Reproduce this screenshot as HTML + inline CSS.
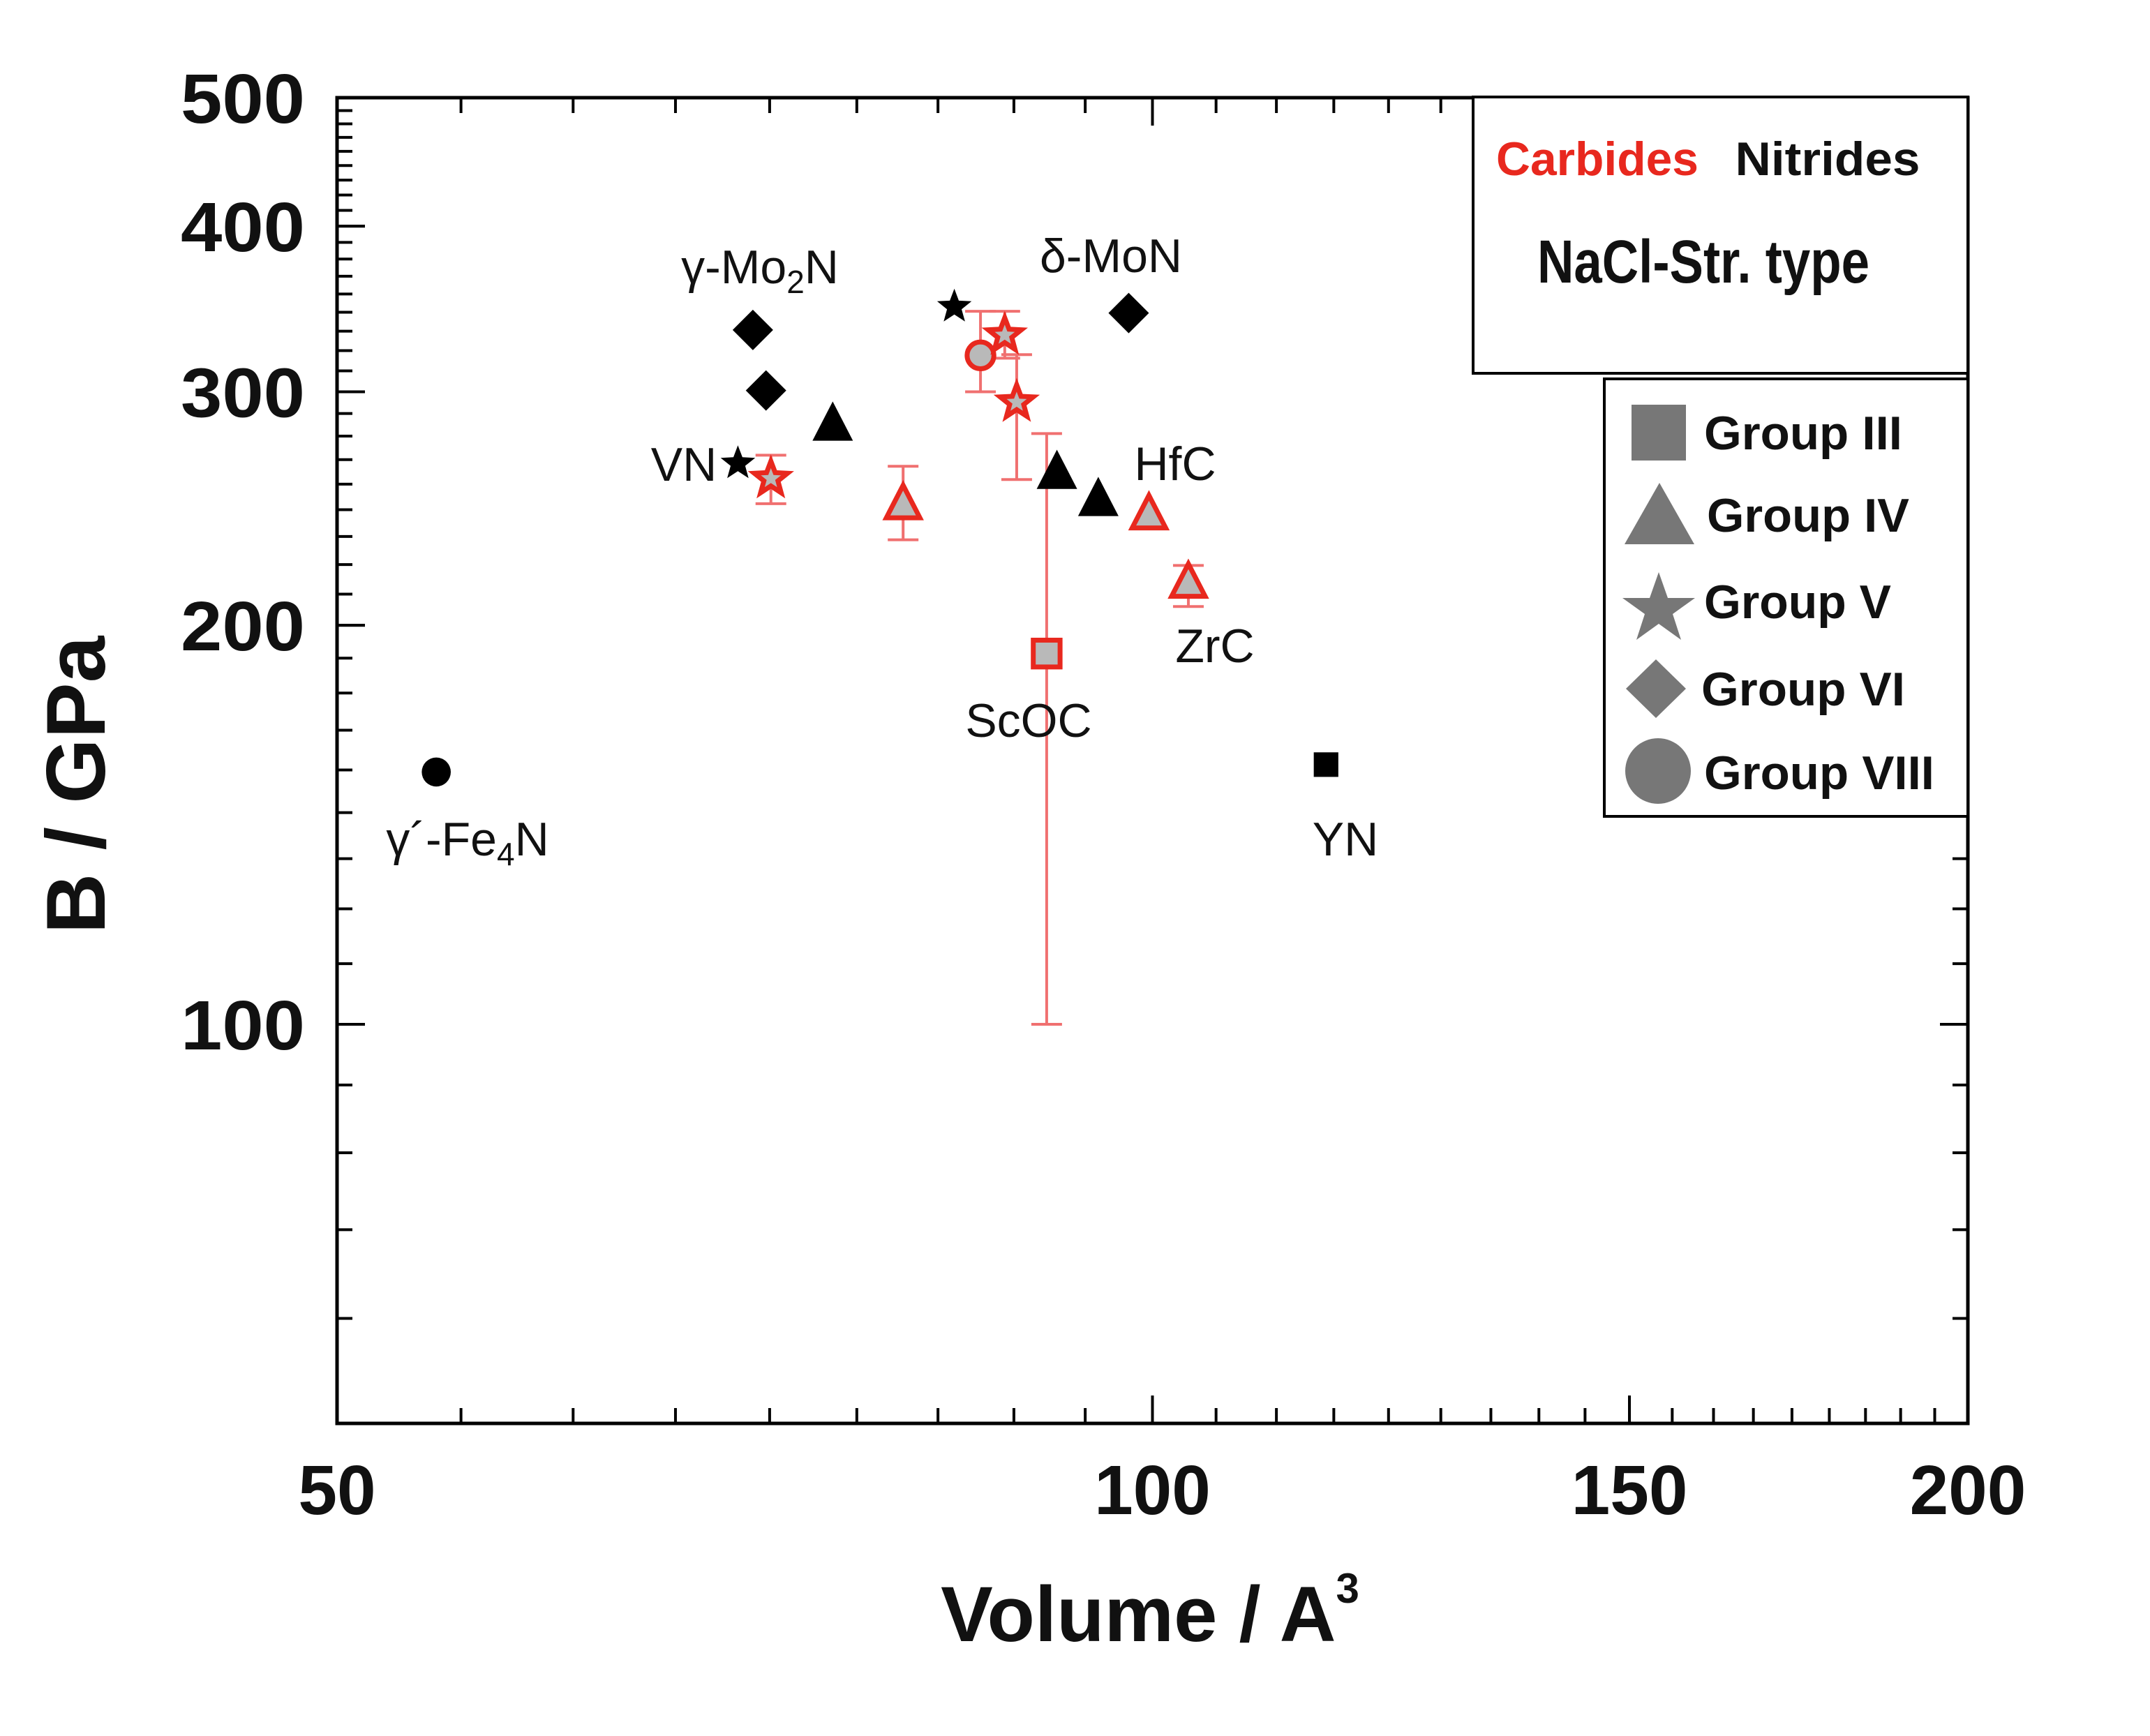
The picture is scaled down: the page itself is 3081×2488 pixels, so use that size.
<!DOCTYPE html>
<html><head><meta charset="utf-8"><style>
html,body{margin:0;padding:0;background:#fff;}
svg{display:block;font-family:"Liberation Sans",sans-serif;}
</style></head><body>
<svg id="chart" width="3081" height="2488" viewBox="0 0 3081 2488" xmlns="http://www.w3.org/2000/svg">
<rect width="3081" height="2488" fill="#fff"/>
<g id="ticks"></g>
<rect x="483" y="140" width="2337" height="1900" fill="none" stroke="#000" stroke-width="5"/>
<g id="marks"></g>
<g id="labels" font-size="68" fill="#111">
<text x="1089" y="406" text-anchor="middle">γ-Mo<tspan font-size="46" dy="14">2</tspan><tspan dy="-14">N</tspan></text>
<text x="1592" y="390" text-anchor="middle">δ-MoN</text>
<text x="980" y="689" text-anchor="middle">VN</text>
<text x="1684" y="688" text-anchor="middle">HfC</text>
<text x="1741" y="949" text-anchor="middle">ZrC</text>
<text x="1474" y="1056" text-anchor="middle">ScOC</text>
<text x="670" y="1226" text-anchor="middle">γ´-Fe<tspan font-size="46" dy="14">4</tspan><tspan dy="-14">N</tspan></text>
<text x="1928" y="1226" text-anchor="middle">YN</text>
</g>
<g>
<rect x="2111" y="139" width="709" height="396" fill="#fff" stroke="#000" stroke-width="4"/>
<text x="2289" y="251" font-size="68" font-weight="bold" fill="#e8281e" text-anchor="middle" textLength="290" lengthAdjust="spacingAndGlyphs">Carbides</text>
<text x="2619" y="251" font-size="68" font-weight="bold" fill="#111" text-anchor="middle" textLength="265" lengthAdjust="spacingAndGlyphs">Nitrides</text>
<text x="2441" y="405" font-size="87" font-weight="bold" fill="#111" text-anchor="middle" textLength="476" lengthAdjust="spacingAndGlyphs">NaCl-Str. type</text>
</g>
<g>
<rect x="2299" y="543" width="521" height="627" fill="#fff" stroke="#000" stroke-width="4"/>
<rect x="2338" y="580" width="78" height="80" fill="#777"/>
<polygon points="2378,692 2428,780 2328,780" fill="#777"/>
<polygon points="2377,820 2390,857 2429,857 2397,880 2409,917 2377,894 2345,917 2357,880 2325,857 2364,857" fill="#777"/>
<polygon points="2373,945 2416,987 2373,1029 2330,987" fill="#777"/>
<circle cx="2376" cy="1105" r="47" fill="#777"/>
<g font-size="68" font-weight="bold" fill="#111">
<text x="2442" y="644" textLength="284" lengthAdjust="spacingAndGlyphs">Group III</text>
<text x="2446" y="762" textLength="290" lengthAdjust="spacingAndGlyphs">Group IV</text>
<text x="2442" y="886" textLength="268" lengthAdjust="spacingAndGlyphs">Group V</text>
<text x="2438" y="1011" textLength="292" lengthAdjust="spacingAndGlyphs">Group VI</text>
<text x="2442" y="1131" textLength="330" lengthAdjust="spacingAndGlyphs">Group VIII</text>
</g>
</g>
<text transform="translate(150,1125) rotate(-90)" font-size="120" font-weight="bold" text-anchor="middle" fill="#111">B / GPa</text>
<text x="1648" y="2352" font-size="112" font-weight="bold" text-anchor="middle" fill="#111">Volume / A<tspan font-size="60" dy="-55">3</tspan></text>
<g id="ticklabels"></g>
</svg>
<script>
const xTicks = [50, 100, 150, 200];
const yTicks = [100, 200, 300, 400, 500];
const yMinorBase = [50, 100, 200, 300, 400];
// Nitrides (black)
const nX = [71.2, 72.0, 98.0, 84.5, 70.3, 76.2, 92.2, 95.5, 54.4, 115.9];
const nY = [334, 300.7, 344, 347.7, 264.9, 283.8, 261, 249, 155, 157];
const nShape = ['diamond','diamond','diamond','star','star','triangle','triangle','triangle','circle','square'];
// Carbides (red outlined)
const cX = [72.3, 80.9, 86.4, 88.2, 89.1, 91.4, 99.7, 103.1];
const cY = [258, 247, 319.6, 331, 294.6, 190.4, 242.7, 215.5];
const cLow = [247, 232, 300, 318, 257.6, 100, 242.7, 206.6];
const cHigh = [268.7, 263.6, 345, 345, 320, 279, 242.7, 221.9];
const cShape = ['star','triangle','circle','star','star','square','triangle','triangle'];

const NS = 'http://www.w3.org/2000/svg';
const L = 483, R = 2820, T = 140, B = 2040;
function xs(v){ return L + (R - L) * Math.log10(v / 50) / Math.log10(4); }
function ys(v){ return B - (B - T) * Math.log10(v / 50); }
function mk(tag, attrs, parent){ const e = document.createElementNS(NS, tag); for (const k in attrs) e.setAttribute(k, attrs[k]); parent.appendChild(e); return e; }

const tg = document.getElementById('ticks');
for (let i = 0; i < 3; i++) {
  const a = xTicks[i], b = xTicks[i+1];
  for (let k = 0; k <= 9; k++) {
    const v = a + (b - a) * k / 9;
    const len = (k === 0 || k === 9) ? 40 : 22;
    const x = xs(v);
    const t1 = mk('line', {x1:x, x2:x, y1:B, y2:B-len, stroke:'#000','stroke-width':4}, tg);
    
    
    const t2 = mk('line', {x1:x, x2:x, y1:T, y2:T+len, stroke:'#000','stroke-width':4}, tg);
    
    
  }
}
for (let i = 0; i < yMinorBase.length; i++) {
  const a = yMinorBase[i], b = i === 0 ? 100 : yMinorBase[i] + 100;
  const n = i === 0 ? 5 : 9;
  for (let k = 0; k <= n; k++) {
    const v = a + (b - a) * k / n;
    const len = (yTicks.indexOf(Math.round(v)) >= 0) ? 40 : 22;
    const y = ys(v);
    const t1 = mk('line', {x1:L, x2:L+len, y1:y, y2:y, stroke:'#000','stroke-width':4}, tg);
    
    
    const t2 = mk('line', {x1:R, x2:R-len, y1:y, y2:y, stroke:'#000','stroke-width':4}, tg);
    
    
  }
}
const tl = document.getElementById('ticklabels');
xTicks.forEach(v => {
  const t = mk('text', {x:xs(v), y:2170, 'font-size':100, 'font-weight':'bold', 'text-anchor':'middle', fill:'#111'}, tl);
  
  
  t.textContent = v;
});
yTicks.forEach(v => {
  const t = mk('text', {x:437, y:ys(v)+36, 'font-size':100, 'font-weight':'bold', 'text-anchor':'end', fill:'#111', textLength:178, lengthAdjust:'spacingAndGlyphs'}, tl);
  
  
  t.textContent = v;
});

function shape(kind, cx, cy, s, fill, stroke, sw, parent){
  let e;
  if (kind === 'diamond') e = mk('polygon', {points:`${cx},${cy-s/2} ${cx+s/2},${cy} ${cx},${cy+s/2} ${cx-s/2},${cy}`}, parent);
  else if (kind === 'triangle') e = mk('polygon', {points:`${cx},${cy-s*0.55} ${cx+s/2},${cy+s*0.42} ${cx-s/2},${cy+s*0.42}`}, parent);
  else if (kind === 'square') e = mk('rect', {x:cx-s*0.4, y:cy-s*0.4, width:s*0.8, height:s*0.8}, parent);
  else if (kind === 'circle') e = mk('circle', {cx:cx, cy:cy, r:s*0.4}, parent);
  else {
    const pts = [];
    for (let k = 0; k < 10; k++) { const r = k % 2 ? s*0.22 : s*0.52; const a = -Math.PI/2 + k*Math.PI/5; pts.push((cx + r*Math.cos(a)).toFixed(1) + ',' + (cy + r*Math.sin(a)).toFixed(1)); }
    e = mk('polygon', {points:pts.join(' ')}, parent);
  }
  e.setAttribute('fill', fill); e.setAttribute('stroke', stroke); e.setAttribute('stroke-width', sw);
  return e;
}
const mg = document.getElementById('marks');
cX.forEach((v, i) => {
  const x = xs(v);
  if (cHigh[i] !== cLow[i]) {
    const l = mk('line', {x1:x, x2:x, y1:ys(cHigh[i]), y2:ys(cLow[i]), stroke:'#f07070','stroke-width':4}, mg);
    
    
    [cHigh[i], cLow[i]].forEach(e => {
      const c = mk('line', {x1:x-22, x2:x+22, y1:ys(e), y2:ys(e), stroke:'#f07070','stroke-width':4}, mg);
      
      
    });
  }
});
nX.forEach((v, i) => {
  const s = nShape[i] === 'circle' ? 52 : nShape[i] === 'square' ? 44 : nShape[i] === 'star' ? 50 : 58;
  const e = shape(nShape[i], xs(v), ys(nY[i]), s, '#000', 'none', 0, mg);
  
  
});
cX.forEach((v, i) => {
  const e = shape(cShape[i], xs(v), ys(cY[i]), 48, '#b9b9b9', '#e8281e', 7, mg);
  
  
});
</script>
</body></html>
